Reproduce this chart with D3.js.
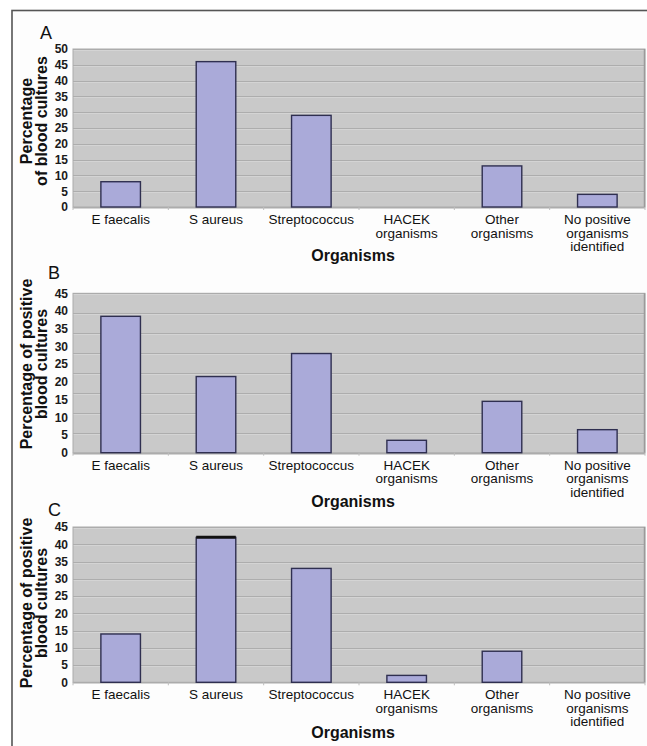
<!DOCTYPE html>
<html>
<head>
<meta charset="utf-8">
<script src="https://cdn.jsdelivr.net/npm/d3@7/dist/d3.min.js"></script>
<style>
  html, body { margin: 0; padding: 0; background: #ffffff; }
  svg { display: block; }
  text { font-family: "Liberation Sans", Arial, sans-serif; }
</style>
</head>
<body>
<svg id="chart" width="647" height="746"></svg>
<script>
// ---------------- DATA ----------------
const categories = ["E faecalis", "S aureus", "Streptococcus", "HACEK organisms", "Other organisms", "No positive organisms identified"];
const categoryLabelLines = [["E faecalis"], ["S aureus"], ["Streptococcus"], ["HACEK", "organisms"], ["Other", "organisms"], ["No positive", "organisms", "identified"]];

const valuesA = [8, 46, 29, 0, 13, 4];
const valuesB = [38.5, 21.5, 28, 3.5, 14.5, 6.5];
const valuesC = [14, 42, 33, 2, 9, 0];

const ticksA = [0, 5, 10, 15, 20, 25, 30, 35, 40, 45, 50];
const ticksB = [0, 5, 10, 15, 20, 25, 30, 35, 40, 45];
const ticksC = [0, 5, 10, 15, 20, 25, 30, 35, 40, 45];

// gridlines as drawn in the source figure (panel B's grid follows a 0-40 grid)
const gridA = [0, 5, 10, 15, 20, 25, 30, 35, 40, 45, 50];
const gridB = [0, 5, 10, 15, 20, 25, 30, 35, 40];
const gridC = [0, 5, 10, 15, 20, 25, 30, 35, 40, 45];

const panelLetters = ["A", "B", "C"];
const yTitleA = ["Percentage", "of blood cultures"];
const yTitleB = ["Percentage of positive", "blood cultures"];
const yTitleC = ["Percentage of positive", "blood cultures"];
const xTitle = "Organisms";
const markedTopC = "S aureus";

// ---------------- DRAW ----------------
const svg = d3.select("#chart");
const W = 647, H = 746;

svg.append("rect").attr("x", 0).attr("y", 0).attr("width", W).attr("height", H).attr("fill", "#ffffff");
// figure frame
svg.append("rect").attr("x", 12).attr("y", 10.5).attr("width", W + 20).attr("height", H + 20)
  .attr("fill", "#fdfdfd").attr("stroke", "#555555").attr("stroke-width", 1.6);

const panels = [
  { letter: panelLetters[0], values: valuesA, ticks: ticksA, grid: gridA, yMax: 50, gridMax: 50,
    top: 49, bottom: 207, letterX: 40, letterY: 39, yTitle: yTitleA, yTitleC: 121, xTitleY: 261 },
  { letter: panelLetters[1], values: valuesB, ticks: ticksB, grid: gridB, yMax: 45, gridMax: 40,
    top: 293.3, bottom: 452.7, letterX: 48, letterY: 279, yTitle: yTitleB, yTitleC: 364, xTitleY: 507 },
  { letter: panelLetters[2], values: valuesC, ticks: ticksC, grid: gridC, yMax: 45, gridMax: 45,
    top: 527, bottom: 682.3, letterX: 48, letterY: 516, yTitle: yTitleC, yTitleC: 603, xTitleY: 738, marked: markedTopC }
];

const plotLeft = 73, plotRight = 645;

panels.forEach(p => {
  const g = svg.append("g");
  const x = d3.scaleBand().domain(categories).range([plotLeft, plotRight])
    .paddingInner(0.585).paddingOuter(0.2925);
  const y = d3.scaleLinear().domain([0, p.yMax]).range([p.bottom, p.top]);
  const yGrid = d3.scaleLinear().domain([0, p.gridMax]).range([p.bottom, p.top]);

  // plot background
  g.append("rect").attr("x", plotLeft).attr("y", p.top)
    .attr("width", plotRight - plotLeft).attr("height", p.bottom - p.top)
    .attr("fill", "#c9c9c9");

  // gridlines
  g.append("g").selectAll("line").data(p.grid).join("line")
    .attr("x1", plotLeft).attr("x2", plotRight)
    .attr("y1", d => Math.round(yGrid(d)) + 0.5).attr("y2", d => Math.round(yGrid(d)) + 0.5)
    .attr("stroke", "#adadad").attr("stroke-width", 1);
  g.append("g").selectAll("line").data(p.grid).join("line")
    .attr("x1", plotLeft).attr("x2", plotRight)
    .attr("y1", d => Math.round(yGrid(d)) + 1.5).attr("y2", d => Math.round(yGrid(d)) + 1.5)
    .attr("stroke", "#d4d4d4").attr("stroke-width", 1);

  // plot border
  g.append("rect").attr("x", plotLeft).attr("y", p.top)
    .attr("width", plotRight - plotLeft).attr("height", p.bottom - p.top)
    .attr("fill", "none").attr("stroke", "#ababab").attr("stroke-width", 1);
  g.append("line").attr("x1", plotRight - 0.5).attr("x2", plotRight - 0.5)
    .attr("y1", p.top).attr("y2", p.bottom).attr("stroke", "#9a9a9a").attr("stroke-width", 1.5);

  // category ticks at band boundaries
  const bounds = d3.range(categories.length + 1).map(i => plotLeft + i * (plotRight - plotLeft) / categories.length);
  g.append("g").selectAll("line").data(bounds).join("line")
    .attr("x1", d => d).attr("x2", d => d)
    .attr("y1", p.bottom).attr("y2", p.bottom + 3)
    .attr("stroke", "#bdbdbd").attr("stroke-width", 1);

  // bars
  const data = categories.map((c, i) => ({ c, v: p.values[i] }));
  g.append("g").selectAll("rect").data(data.filter(d => d.v > 0)).join("rect")
    .attr("x", d => x(d.c)).attr("y", d => y(d.v))
    .attr("width", x.bandwidth()).attr("height", d => p.bottom - y(d.v))
    .attr("fill", "#aaaad9").attr("stroke", "#2f2f50").attr("stroke-width", 1.4);

  if (p.marked) {
    const mi = categories.indexOf(p.marked);
    g.append("line")
      .attr("x1", x(p.marked)).attr("x2", x(p.marked) + x.bandwidth())
      .attr("y1", y(p.values[mi])).attr("y2", y(p.values[mi]))
      .attr("stroke", "#111111").attr("stroke-width", 3);
  }

  // y tick labels
  g.append("g").selectAll("text").data(p.ticks).join("text")
    .attr("x", 68).attr("y", d => y(d)).attr("dy", "0.36em")
    .attr("text-anchor", "end").attr("font-size", 12).attr("font-weight", "bold")
    .attr("fill", "#1a1a1a").text(d => d);

  // category labels
  const cl = g.append("g").selectAll("text").data(categories).join("text")
    .attr("text-anchor", "middle").attr("font-size", 13.5).attr("fill", "#111111")
    .attr("x", d => x(d) + x.bandwidth() / 2).attr("y", p.bottom + 17);
  cl.each(function(d, i) {
    const t = d3.select(this);
    categoryLabelLines[i].forEach((line, j) => {
      t.append("tspan").attr("x", x(d) + x.bandwidth() / 2)
        .attr("y", p.bottom + 17 + j * 13.5).text(line);
    });
  });

  // panel letter
  g.append("text").attr("x", p.letterX).attr("y", p.letterY)
    .attr("font-size", 18).attr("fill", "#111111").text(p.letter);

  // y title (rotated)
  p.yTitle.forEach((line, j) => {
    g.append("text")
      .attr("transform", `translate(${31.5 + j * 15},${p.yTitleC}) rotate(-90)`)
      .attr("text-anchor", "middle").attr("font-size", 16).attr("font-weight", "bold")
      .attr("fill", "#111111").text(line);
  });

  // x title
  g.append("text").attr("x", 353).attr("y", p.xTitleY)
    .attr("text-anchor", "middle").attr("font-size", 16).attr("font-weight", "bold")
    .attr("fill", "#111111").text(xTitle);
});
</script>
</body>
</html>
